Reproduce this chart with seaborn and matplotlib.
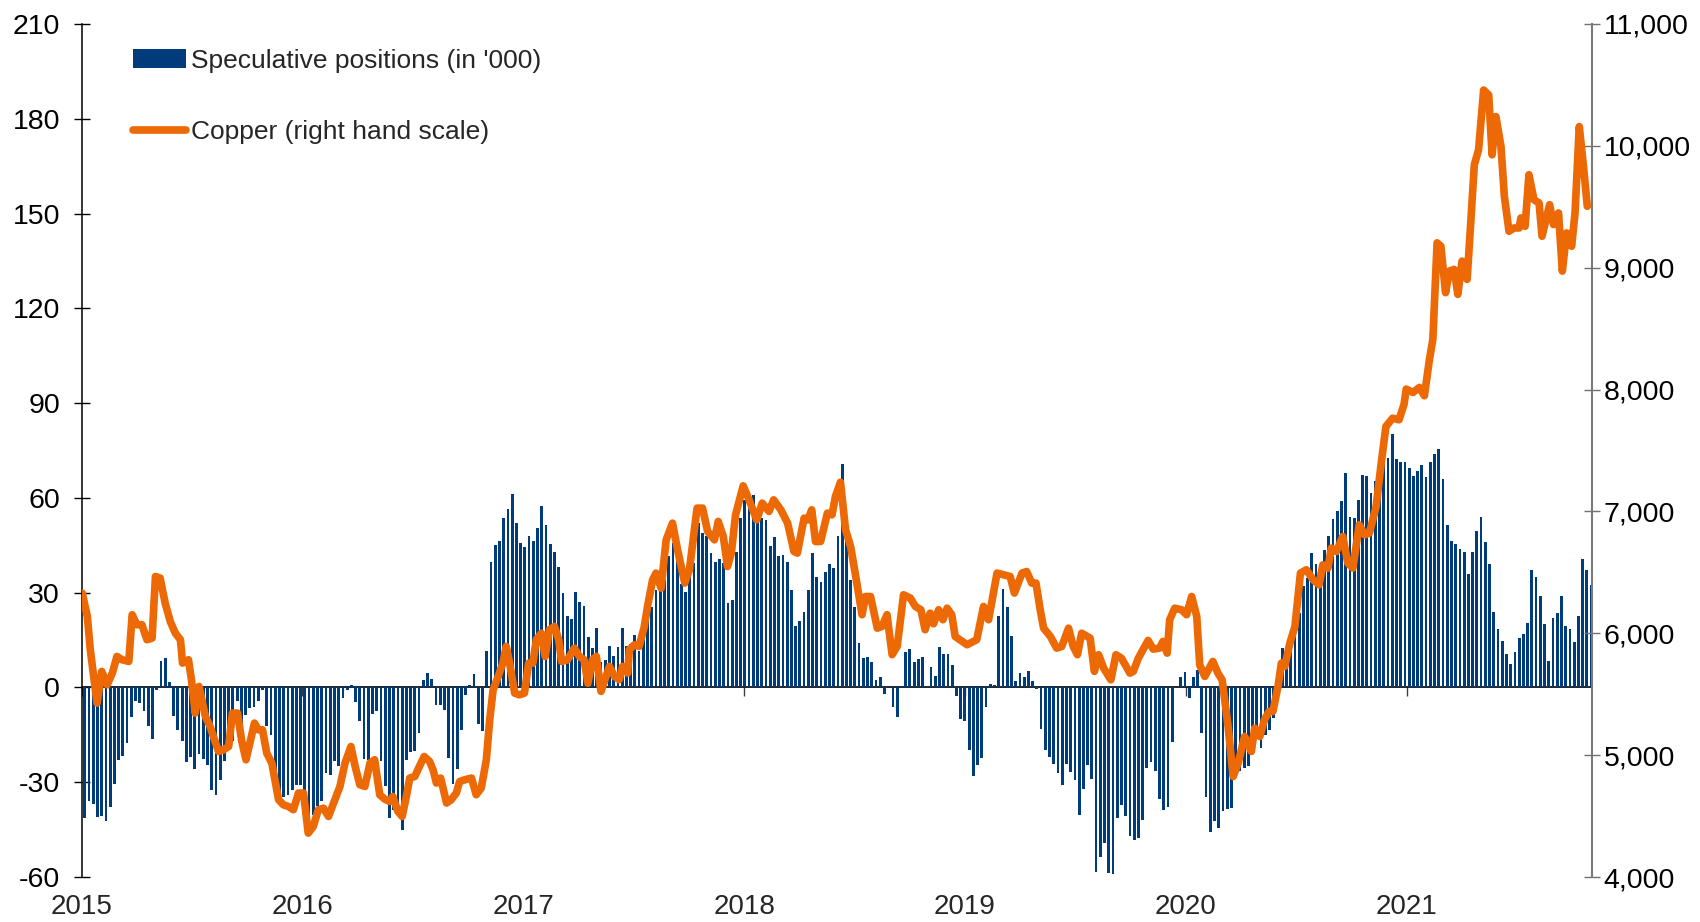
#!/usr/bin/env python3
"""
Copper: speculative positions (weekly, bars) vs copper price (line, right scale).
"""

import numpy as np
import pandas as pd
import matplotlib
matplotlib.use("Agg")
import matplotlib.pyplot as plt
import matplotlib.dates as mdates
import matplotlib.ticker as mticker
from matplotlib.patches import Patch
from matplotlib.lines import Line2D
import seaborn as sns

# --- Data ---
# weekly speculative net positions in '000, first week 2015-01-06
first_week = "2015-01-06"
spec_positions = [
    -41.4, -36, -37, -41, -40.6, -42.4, -38, -30.5, -23, -21.8,
    -17.6, -9.2, -4.4, -5, -7.6, -12.3, -16.4, -0.7, 8.5, 9.2,
    1.6, -8.9, -13.6, -16.9, -23.7, -22, -25.7, -21, -22.6, -24.7,
    -32.4, -34, -29.2, -23.4, -19.7, -17, -4.2, -13.4, -8.6, -6.5,
    -6.2, -4.4, -0.7, -12.1, -15,
    # 2015 Q4 / 2016
    -33.5, -34.4, -34.8, -34, -32.4, -30.8, -30.8, -38, -40.8, -40.3,
    -37.4, -36.1, -27.1, -27.6, -23.4, -25, -3.2, -0.7, 0.8, -4.7,
    -10.5, -22.7, -22.9, -8.4, -7.6, -23.2, -31.1, -41.4, -38.9, -37.2,
    -45.2, -22.9, -20.3, -20, -14.5, 2.4, 4.7, 2.6, -5.5, -5.5,
    -7, -22.4, -30.5, -25.7,
    # late 2016 / 2017
    -13.4, -2.3, 0.8, 4.3, -11.5, -13.9, 11.4, 39.6, 45, 46.2,
    53.5, 56.4, 61.2, 52, 45.7, 44.6, 47.8, 46.5, 50.4, 57.3,
    51.5, 45.4, 42.9, 38, 29.9, 22.5, 21.8, 30.1, 26.9, 25.8,
    16.1, 12.4, 18.7, 8.2, 8.8, 13, 9.8, 12.7, 18.9, 13,
    13.7, 16.5, 11.4, 17, 22, 25.6,
    30.9, 30.4, 34, 41.5, 45.7, 41.7, 32.8, 30.1, 37.2, 39.3,
    52, 48.8, 47.8, 42.5, 39.7, 40.6, 39.3, 26.7, 27.7, 42.8,
    53.6, 59.4, 58.3, 61, 53, 53.6, 53, 44.9, 47.5, 41.7,
    42, 39.7, 30.9, 19.3, 20.9, 23.8, 30.7, 42.7, 35.1, 33.5,
    36.4, 39, 37.7, 47.8, 70.7,
    # mid 2018 / 2019
    48, 34, 25.6, 14.2, 9.3, 9.5, 8.2, 2.2, 3.2, -2,
    0.5, -6.2, -9.2, 0.3, 11.2, 12.1, 8.2, 9, 9.5, 0.6,
    6.4, 3.5, 12.7, 10.7, 10.7, 7.2, -2.8, -10, -10.5, -19.7,
    -27.9, -24.7, -22.2, -6.3, 1.2, 0.8, 22.5, 31.2, 25.6, 16.4,
    2.1, 4.5, 3.2, 5.3, 2.1,
    -0.4, -13.2, -19.7, -22, -24.2, -27.1, -30.8, -24.3, -26.8, -29.4,
    -40.3, -32.2, -24.5, -29, -58.5, -53.8, -49.3, -58.8, -59.1, -41.4,
    -37.3, -40.8, -46.9, -48.2, -47.5, -41.9, -25.5, -23.6, -26.6, -35.3,
    -38.9, -38, -17.4, 0.2, 3.3, 5, -3.4, 3.3, 5.6, -14.5,
    -34.7, -45.9, -42.2, -44.5, -39.2,
    # 2020
    -38.5, -38.2, -28.2, -26.6, -25.5, -25, -15, -12.9, -19.2, -15,
    -13.4, -9.7, -3.9, 12.4, 7.7, 17.2, 19.3, 23.5, 32, 34.6,
    42.5, 39.1, 36.2, 43.6, 48, 53.4, 56, 58.9, 68, 54.1,
    53.6, 59.4, 67.3, 67, 61.5, 65.2, 67.3, 74.2, 72.5, 80.3,
    72.3, 71.5, 71.5, 69.4, 66.8,
    # 2021
    68.4, 70.3, 66.5, 71.3, 73.9, 75.5, 66, 51.4, 46.4, 45.5,
    43.9, 43, 36, 42.9, 49.4, 53.8, 45.9, 39.1, 23.8, 18.6,
    14.6, 10.7, 7.5, 11.3, 15.7, 16.9, 20.4, 37.3, 35.1, 29,
    20, 8.5, 21.9, 23.7, 28.8, 19.3, 18.5, 14.3, 22.5, 40.6,
    37.2, 32.3,
]

# copper price (USD/t), sampled along the line; position in weeks after first_week
copper_week = [
    -0.6, 0.6, 1.3, 2.9, 4.0, 5.3, 6.5, 7.6, 8.8, 10.4,
    11.2, 12.3, 13.5, 14.7, 15.9, 16.7, 17.8, 19.0, 20.2, 21.4,
    22.6, 23.1, 24.5, 25.2, 26.1, 27.0, 28.5, 29.6, 31.6, 32.8,
    34.0, 34.9, 36.1, 37.1, 38.1, 39.1, 40.1, 41.0, 42.0, 43.0,
    44.2, 45.8, 46.9, 48.1, 49.3, 50.5, 51.7, 52.8, 54.0, 55.2,
    56.4, 57.6, 59.1, 60.3, 61.5, 62.9, 63.9, 65.0, 66.2, 67.4,
    68.5, 69.7, 70.9, 72.0, 72.8, 74.0, 75.0, 76.0, 76.8, 78.0,
    78.9, 80.2, 81.5, 82.3, 83.1, 84.1, 85.5, 86.6, 87.8, 88.6,
    89.8, 91.4, 92.5, 93.7, 94.9, 95.7, 96.5, 97.7, 98.8, 99.6,
    100.4, 101.6, 102.7, 103.9, 104.9, 105.9, 106.7, 107.9, 108.8, 109.8,
    111.0, 112.0, 112.7, 114.1, 115.7, 116.9, 118.0, 118.9, 120.0, 120.9,
    122.0, 123.2, 124.0, 125.2, 126.3, 127.1, 128.3, 128.7, 129.9, 131.0,
    132.2, 133.0, 134.2, 135.0, 136.2, 137.4, 138.9, 140.1, 141.8, 142.9,
    144.7, 146.0, 147.2, 148.8, 149.7, 150.9, 151.9, 152.8, 153.8, 155.6,
    157.0, 158.8, 160.1, 161.7, 162.8, 164.5, 166.1, 167.6, 168.4, 170.0,
    170.9, 171.8, 172.7, 173.9, 175.5, 176.6, 177.4, 178.6, 179.8, 181.0,
    182.2, 183.7, 184.5, 185.7, 187.3, 188.4, 189.6, 190.8, 192.0, 193.5,
    195.1, 196.3, 197.6, 198.6, 199.8, 200.6, 201.8, 202.8, 203.8, 204.9,
    205.7, 208.5, 210.8, 212.4, 213.6, 215.6, 218.7, 219.7, 221.5, 222.6,
    223.8, 224.8, 225.8, 226.6, 228.2, 229.7, 230.9, 232.5, 233.6, 234.6,
    235.6, 237.6, 238.6, 239.6, 240.8, 242.5, 243.7, 245.0, 247.0, 247.8,
    249.0, 250.1, 251.3, 252.5, 254.0, 254.8, 255.8, 256.4, 257.6, 259.2,
    260.4, 261.6, 262.8, 263.5, 264.7, 266.6, 267.8, 268.8, 270.2, 271.4,
    272.6, 274.1, 275.7, 276.5, 277.7, 278.8, 279.9, 280.8, 282.0, 282.8,
    283.6, 284.8, 286.0, 287.3, 288.7, 290.3, 291.7, 292.6, 293.8, 294.6,
    295.8, 297.3, 298.5, 299.7, 301.2, 302.5, 303.6, 305.2, 306.3, 307.5,
    309.1, 310.6, 311.8, 312.3, 313.9, 315.4, 316.6, 317.8, 318.6, 319.6,
    320.5, 321.6, 322.5, 323.6, 324.5, 325.5, 326.7, 327.5, 328.4, 329.4,
    330.6, 331.8, 332.6, 333.5, 334.7, 335.5, 336.6, 337.8, 339.0, 339.4,
    340.4, 341.3, 342.5, 343.7, 344.4, 346.2, 347.1, 348.3, 349.2, 350.2,
    351.4, 352.2, 353.2, 354.2, 355.1,
]
copper_price = [
    6330, 6138, 5865, 5427, 5687, 5577, 5673, 5810, 5783, 5769,
    6152, 6070, 6070, 5947, 5960, 6466, 6453, 6247, 6097, 6001,
    5947, 5755, 5783, 5619, 5345, 5564, 5318, 5236, 5030, 5044,
    5071, 5345, 5345, 5112, 4962, 5112, 5263, 5208, 5208, 5017,
    4935, 4634, 4593, 4579, 4552, 4689, 4689, 4360, 4415, 4552,
    4565, 4497, 4634, 4743, 4935, 5071, 4907, 4757, 4743, 4935,
    4962, 4675, 4639, 4620, 4661, 4538, 4497, 4661, 4812, 4825,
    4894, 4989, 4948, 4880, 4771, 4812, 4607, 4634, 4689, 4784,
    4798, 4812, 4675, 4730, 4962, 5290, 5536, 5646, 5755, 5892,
    5755, 5509, 5495, 5509, 5755, 5755, 5947, 6001, 5810, 6029,
    6056, 5947, 5769, 5783, 5878, 5810, 5783, 5591, 5783, 5810,
    5523, 5646, 5728, 5646, 5619, 5728, 5673, 5865, 5906, 5892,
    6050, 6220, 6439, 6494, 6371, 6767, 6904, 6685, 6412, 6521,
    7027, 7027, 6835, 6767, 6918, 6794, 6548, 6658, 6972, 7210,
    7095, 6931, 7068, 7000, 7095, 7013, 6904, 6672, 6658, 6945,
    6931, 7013, 6753, 6753, 6986, 6972, 7123, 7240, 6849, 6712,
    6466, 6152, 6302, 6302, 6042, 6056, 6152, 5824, 5892, 6316,
    6289, 6220, 6193, 6029, 6165, 6078, 6193, 6111, 6206, 6152,
    5974, 5906, 5947, 6220, 6111, 6494, 6466, 6330, 6494, 6507,
    6412, 6412, 6193, 6042, 5974, 5878, 5892, 6042, 5892, 5824,
    6001, 5960, 5687, 5824, 5714, 5618, 5824, 5796, 5673, 5687,
    5796, 5865, 5941, 5870, 5878, 5933, 5837, 6111, 6206, 6193,
    6152, 6302, 6138, 5741, 5646, 5769, 5673, 5618, 5236, 4825,
    4935, 5153, 5030, 5222, 5153, 5290, 5359, 5359, 5564, 5755,
    5728, 5919, 6056, 6494, 6521, 6439, 6398, 6562, 6535, 6699,
    6671, 6794, 6576, 6535, 6890, 6808, 6822, 7041, 7369, 7697,
    7765, 7752, 7880, 8004, 7976, 8017, 7949, 8249, 8413, 9204,
    9176, 8795, 8972, 8986, 8781, 9054, 8904, 9340, 9845, 9967,
    10458, 10417, 9926, 10240, 9995, 9585, 9299, 9326, 9326, 9408,
    9340, 9763, 9558, 9531, 9258, 9517, 9354, 9449, 8972, 9285,
    9176, 9449, 10158, 9831, 9504,
]

year_ticks = ["2015", "2016", "2017", "2018", "2019", "2020", "2021"]

NAVY = "#003B7C"
ORANGE = "#EC6905"

sns.set_style("ticks")
plt.rcParams["font.family"] = ["Liberation Sans", "DejaVu Sans"]
plt.rcParams["axes.unicode_minus"] = False

start = pd.Timestamp(first_week)
bar_dates = start + pd.to_timedelta(7 * np.arange(len(spec_positions)), unit="D")
copper_dates = start + pd.to_timedelta(np.array(copper_week) * 7, unit="D")
df_cu = pd.DataFrame({"date": copper_dates, "copper": copper_price})

fig = plt.figure(figsize=(17, 9.22), dpi=100)
ax = fig.add_axes([0.0481, 0.0488, 0.8882, 0.9252])

# bars: speculative positions (left scale)
ax.bar(bar_dates, spec_positions, width=4.6, color=NAVY, linewidth=0, zorder=2)
ax.set_ylim(-60, 210)
ax.set_yticks(np.arange(-60, 211, 30))
ax.set_xlim(pd.Timestamp("2015-01-01"), pd.Timestamp("2021-11-03"))
ax.set_xticks([pd.Timestamp(y + "-01-01") for y in year_ticks])
ax.xaxis.set_major_formatter(mdates.DateFormatter("%Y"))
ax.tick_params(axis="x", length=0, pad=12, labelsize=20)
ax.tick_params(axis="y", direction="inout", length=11.5, width=1,
               pad=10, labelsize=20.5, colors="black")
for s in ["top", "right", "bottom"]:
    ax.spines[s].set_visible(False)
ax.spines["left"].set_color("black")
ax.spines["left"].set_linewidth(1.1)

# zero line with year ticks
zero = ax.secondary_xaxis(60 / 270)
zero.set_xticks(mdates.date2num([pd.Timestamp(y + "-01-01") for y in year_ticks]))
zero.tick_params(axis="x", direction="out", length=6.5, width=1,
                 color="#404040", labelbottom=False)
zero.spines["bottom"].set_color("black")
zero.spines["bottom"].set_linewidth(1.2)

# line: copper (right scale)
ax2 = ax.twinx()
sns.lineplot(data=df_cu, x="date", y="copper", ax=ax2, color=ORANGE,
             linewidth=5.5, solid_capstyle="round", solid_joinstyle="round",
             sort=False)
ax2.set_ylim(4000, 11000)
ax2.set_yticks(np.arange(4000, 11001, 1000))
ax2.yaxis.set_major_formatter(mticker.StrMethodFormatter("{x:,.0f}"))
ax2.set_ylabel("")
ax2.set_xlabel("")
ax.set_xlabel("")
ax2.tick_params(axis="y", direction="inout", length=11.5, width=1,
                pad=3, labelsize=20.5, color="#707070", labelcolor="black")
for s in ["top", "left", "bottom"]:
    ax2.spines[s].set_visible(False)
ax2.spines["right"].set_color("#7a7a7a")
ax2.spines["right"].set_linewidth(1.5)

handles = [Patch(facecolor=NAVY, edgecolor="none"),
           Line2D([0], [0], color=ORANGE, linewidth=5.5, solid_capstyle="round")]
labels = ["Speculative positions (in '000)", "Copper (right hand scale)"]
fig.legend(handles, labels, loc="upper left", bbox_to_anchor=(0.0782, 0.947),
           bbox_transform=fig.transFigure, frameon=False, fontsize=19,
           borderpad=0, borderaxespad=0, handlelength=2.0, handletextpad=0.2,
           labelspacing=1.8)

fig.savefig("out.png", dpi=100)
print("[OK] saved out.png")
